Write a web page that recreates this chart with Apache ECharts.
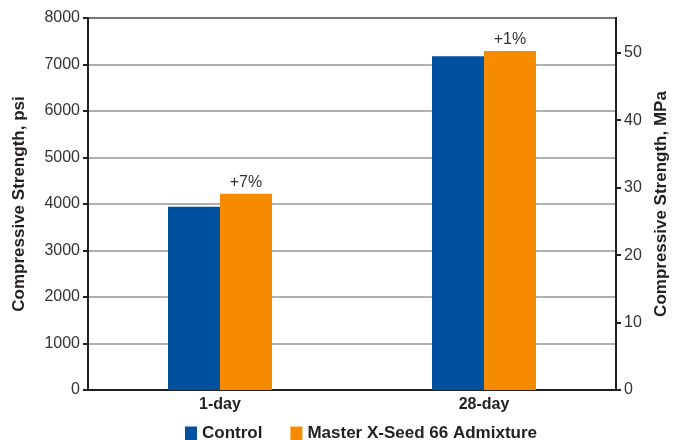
<!DOCTYPE html>
<html>
<head>
<meta charset="utf-8">
<script src="https://cdn.jsdelivr.net/npm/echarts@6/dist/echarts.min.js"></script>
<style>
  html, body { margin: 0; padding: 0; background: #fff; }
  #chart { width: 678px; height: 440px; }
</style>
</head>
<body>
<div id="chart"></div>
<script>
// data
var ages = ['1-day', '28-day']
var controlPsi = [3940, 7180]
var admixPsi = [4220, 7290]
var gainLabels = ['+7%', '+1%']
var psiTicks = [0, 1000, 2000, 3000, 4000, 5000, 6000, 7000, 8000]
var mpaTicks = [0, 10, 20, 30, 40, 50]
var PSI_TO_MPA = 0.00689476

var font = 'Liberation Sans, Arial, sans-serif'
var dark = '#231f20'

var chart = echarts.init(document.getElementById('chart'))
chart.setOption({
  animation: false,
  textStyle: { fontFamily: font },
  grid: {
    left: 88, right: 62, top: 18, bottom: 50,
    show: true, borderColor: dark, borderWidth: 2
  },
  legend: {
    left: 180,
    top: 420,
    itemWidth: 12,
    itemHeight: 14,
    itemGap: 28,
    icon: 'rect',
    textStyle: { fontSize: 17, fontWeight: 'bold', color: dark, fontFamily: font },
    data: ['Control', 'Master X-Seed 66 Admixture']
  },
  xAxis: {
    type: 'category',
    data: ages,
    axisLine: { lineStyle: { color: dark, width: 2 } },
    axisTick: { show: false },
    axisLabel: { fontSize: 16, fontWeight: 'bold', color: dark, margin: 7 }
  },
  yAxis: [
    {
      type: 'value',
      min: psiTicks[0],
      max: psiTicks[psiTicks.length - 1],
      interval: 1000,
      name: 'Compressive Strength, psi',
      nameLocation: 'middle',
      nameGap: 60,
      nameTextStyle: { fontSize: 17, fontWeight: 'bold', color: dark },
      axisLine: { show: true, lineStyle: { color: dark, width: 2 } },
      axisTick: { show: true, length: 5, lineStyle: { color: dark, width: 2 } },
      axisLabel: {
        fontSize: 16, color: '#333', margin: 8,
        formatter: function (v) { return String(v) }
      },
      splitLine: { lineStyle: { color: '#939598', width: 1.5 } }
    },
    {
      type: 'value',
      min: 0,
      max: psiTicks[psiTicks.length - 1] * PSI_TO_MPA,
      interval: 10,
      name: 'Compressive Strength, MPa',
      nameLocation: 'middle',
      nameGap: 35,
      nameTextStyle: { fontSize: 17, fontWeight: 'bold', color: dark },
      axisLine: { show: true, lineStyle: { color: dark, width: 2 } },
      axisTick: { show: true, length: 5, lineStyle: { color: dark, width: 2 } },
      axisLabel: {
        fontSize: 16, color: '#333', margin: 8,
        showMaxLabel: false,
        formatter: function (v) { return mpaTicks.indexOf(v) >= 0 ? String(v) : '' }
      },
      splitLine: { show: false }
    }
  ],
  series: [
    {
      name: 'Control',
      type: 'bar',
      data: controlPsi,
      barWidth: 52,
      barGap: 0,
      itemStyle: { color: '#0050a0' }
    },
    {
      name: 'Master X-Seed 66 Admixture',
      type: 'bar',
      data: admixPsi,
      barWidth: 52,
      itemStyle: { color: '#f68b00' },
      label: {
        show: true,
        position: 'top',
        distance: 3,
        fontSize: 16,
        color: '#333',
        formatter: function (p) { return gainLabels[p.dataIndex] }
      }
    }
  ]
})
</script>
</body>
</html>
